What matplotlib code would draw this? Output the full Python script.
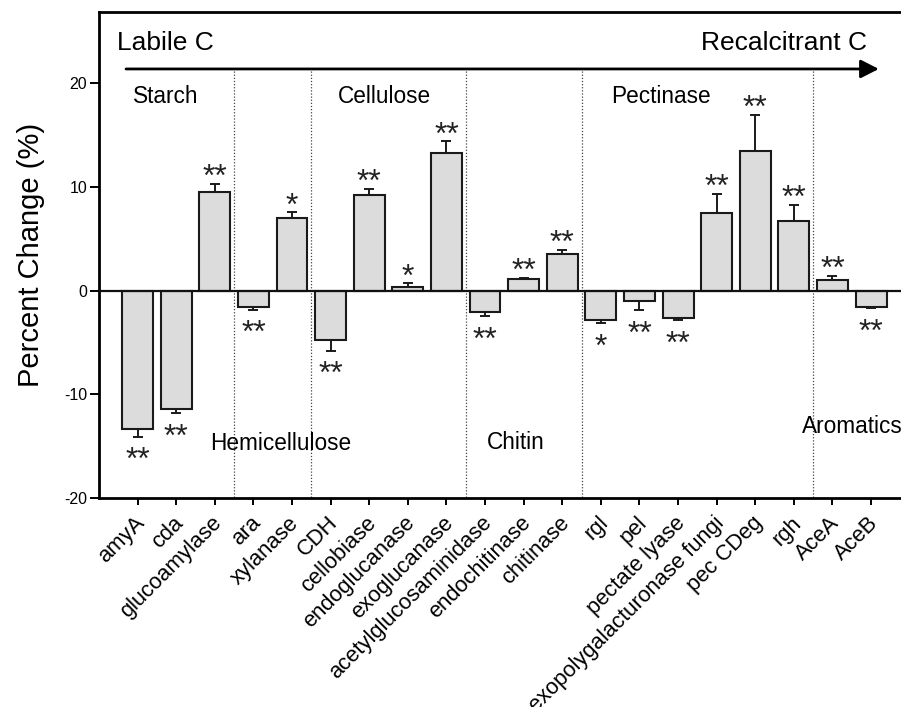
import matplotlib
matplotlib.use("Agg")
import matplotlib.pyplot as plt
from matplotlib.transforms import ScaledTranslation
import numpy as np

plt.rcParams['font.family'] = ['Liberation Sans', 'DejaVu Sans']
plt.rcParams['axes.unicode_minus'] = False

categories = ["amyA", "cda", "glucoamylase", "ara", "xylanase", "CDH", "cellobiase",
              "endoglucanase", "exoglucanase", "acetylglucosaminidase", "endochitinase",
              "chitinase", "rgl", "pel", "pectate lyase", "exopolygalacturonase fungi",
              "pec CDeg", "rgh", "AceA", "AceB"]
values = [-13.4, -11.4, 9.5, -1.6, 7.0, -4.8, 9.25, 0.3, 13.3, -2.1, 1.1,
          3.5, -2.8, -1.0, -2.6, 7.5, 13.5, 6.7, 1.05, -1.55]
errors = [0.7, 0.45, 0.8, 0.25, 0.55, 1.0, 0.6, 0.4, 1.1, 0.35, 0.15,
          0.4, 0.35, 0.9, 0.25, 1.85, 3.5, 1.55, 0.35, 0.13]
signif = ["**", "**", "**", "**", "*", "**", "**", "*", "**", "**", "**",
          "**", "*", "**", "**", "**", "**", "**", "**", "**"]
group_bounds = [2.5, 4.5, 8.5, 11.5, 17.5]
top_groups = [("Starch", -0.11), ("Cellulose", 5.2), ("Pectinase", 12.26)]
bottom_groups = [("Hemicellulose", 1.87, -14.75), ("Chitin", 9.04, -14.7), ("Aromatics", 17.2, -13.1)]

fig = plt.figure(figsize=(9.01, 7.07), dpi=100)
ax = fig.add_axes([99/901, 209.3/707, (909.7-99)/901, (695-209.3)/707])

x = np.arange(len(categories))
vals = np.array(values)
errs = np.array(errors)
lower = np.where(vals < 0, errs, 0)
upper = np.where(vals >= 0, errs, 0)

ax.bar(x, vals, width=0.8, color='#dcdcdc', edgecolor='#1a1a1a', linewidth=1.5, zorder=3)
ax.errorbar(x, vals, yerr=[lower, upper], fmt='none', ecolor='#1a1a1a',
            elinewidth=1.4, capsize=3.3, capthick=1.4, zorder=2)
ax.axhline(0, color='#111111', lw=1.6, zorder=4)

for xi, v, e, s in zip(x, vals, errs, signif):
    if v >= 0:
        ax.annotate(s, (xi, v + e), xytext=(0, -1.5), textcoords='offset points',
                    ha='center', va='baseline', fontsize=23, color='#222222')
    else:
        ax.annotate(s, (xi, v - e), xytext=(0, -23.5), textcoords='offset points',
                    ha='center', va='baseline', fontsize=23, color='#222222')

for b in group_bounds:
    ax.plot([b, b], [21.2, -20], color='#444444', lw=0.9, ls=(0, (1, 1.5)), zorder=1)

ax.annotate('', xy=(19.2, 21.4), xytext=(-0.3, 21.4),
            arrowprops=dict(arrowstyle='-|>,head_length=0.55,head_width=0.28',
                            mutation_scale=20, lw=2, color='black', shrinkA=0, shrinkB=0))
ax.text(-0.54, 23.9, "Labile C", fontsize=19, ha='left', va='center')
ax.text(18.89, 23.9, "Recalcitrant C", fontsize=19, ha='right', va='center')
for name, gx in top_groups:
    ax.text(gx, 18.7, name, fontsize=16.3, ha='left', va='center')
for name, gx, gy in bottom_groups:
    ax.text(gx, gy, name, fontsize=16.3, ha='left', va='center')

ax.set_xlim(-1, 20)
ax.set_ylim(-20, 26.9)
ax.set_yticks([-20, -10, 0, 10, 20])
ax.set_xticks(x)
ax.set_xticklabels(categories, rotation=45, ha='right', va='center',
                   rotation_mode='anchor', fontsize=15.8)
ax.tick_params(axis='x', direction='out', length=5, width=1.4, pad=11)
ax.tick_params(axis='y', direction='out', length=6.5, width=1.4, pad=2, labelsize=11.5)
for lab in ax.get_xticklabels():
    lab.set_transform(lab.get_transform() + ScaledTranslation(4/100, 0, fig.dpi_scale_trans))
for sp in ax.spines.values():
    sp.set_linewidth(2)
ax.set_ylabel("Percent Change (%)", fontsize=21)
ax.yaxis.set_label_coords(-(99-45)/(909.7-99), 0.5)

fig.savefig("out.png", dpi=100)
